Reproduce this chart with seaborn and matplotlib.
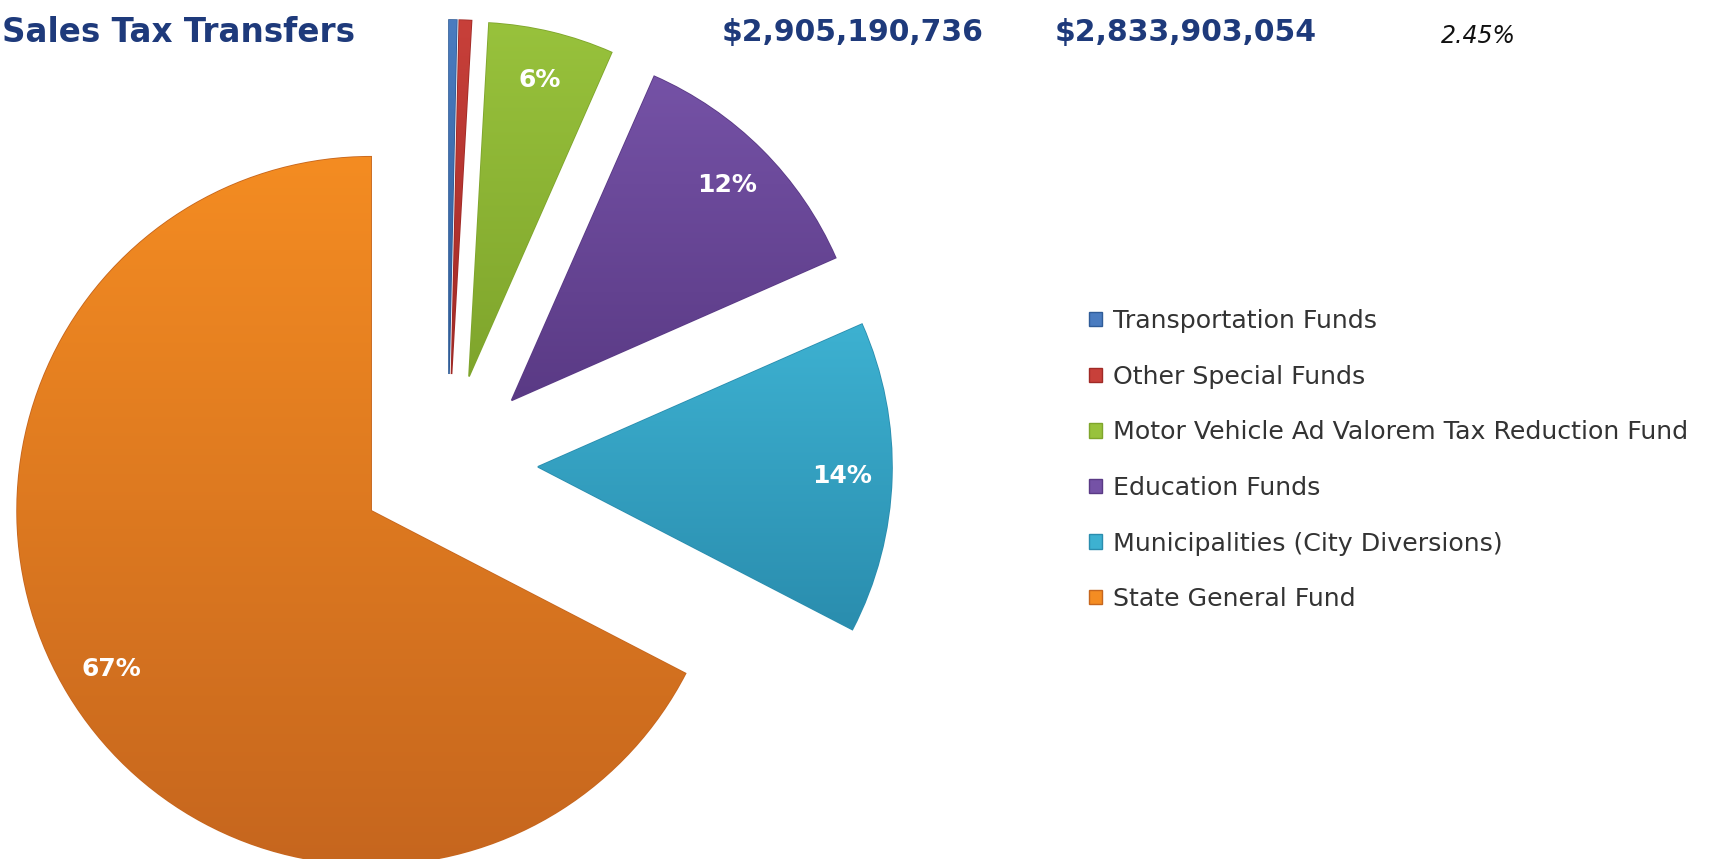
import numpy as np
import matplotlib
matplotlib.use("Agg")
import matplotlib.pyplot as plt
from matplotlib.colors import LinearSegmentedColormap
from matplotlib.patches import Patch
import seaborn as sns

# data
funds = [
    "Transportation Funds",
    "Other Special Funds",
    "Motor Vehicle Ad Valorem Tax Reduction Fund",
    "Education Funds",
    "Municipalities (City Diversions)",
    "State General Fund",
]
shares = [0.35, 0.55, 5.7, 11.8, 14.2, 67.4]
total_current = "$2,905,190,736"
total_prior = "$2,833,903,054"
pct_change = "2.45%"
title = "Sales Tax Transfers"

# colours: top / bottom of each wedge gradient
top_colors = ["#4A7CC0", "#C8403A", "#98C23C", "#7552A6", "#3DB1D1", "#F48C22"]
bottom_colors = ["#2F5C98", "#A02A26", "#7FA52C", "#5A3A85", "#2A8DAE", "#C6661E"]

sns.set_theme(style="white")
plt.rcParams["font.family"] = ["DejaVu Sans"]

W, H = 1722, 859
fig = plt.figure(figsize=(W / 100, H / 100), dpi=100)
ax = fig.add_axes([0, 0, 1, 1])

center = (448, H - 464)
radius = 354
expl = 90

wedges, _, autotexts = ax.pie(
    shares,
    colors=top_colors,
    startangle=90,
    counterclock=False,
    center=center,
    radius=radius,
    explode=[expl] * len(shares),
    autopct=lambda p: f"{p:.0f}%" if p >= 1 else "",
    pctdistance=0.86,
    wedgeprops=dict(linewidth=0),
)

# vertical gradient on each wedge, with a thin darker rim
grad = np.linspace(0, 1, 256).reshape(-1, 1)
for w, c0, c1 in zip(wedges, top_colors, bottom_colors):
    cmap = LinearSegmentedColormap.from_list("g", [c0, c1])
    bb = w.get_path().get_extents(w.get_transform() - ax.transData)
    im = ax.imshow(grad, cmap=cmap, extent=[bb.x0, bb.x1, bb.y0, bb.y1],
                   origin="upper", aspect="auto", zorder=w.get_zorder() + 0.1)
    im.set_clip_path(w)
    w.set_edgecolor(c1)
    w.set_linewidth(1.2)

for t in autotexts:
    t.set_color("white")
    t.set_fontsize(18)
    t.set_fontweight("bold")
    t.set_zorder(5)

ax.set_xlim(0, W)
ax.set_ylim(0, H)
ax.set_aspect("equal")
ax.axis("off")

navy = "#1E3A7B"
ax.text(2, H - 33, title, ha="left", va="center", fontsize=23.5,
        fontweight="bold", color=navy)
ax.text(853, H - 33, total_current, ha="center", va="center", fontsize=21.5,
        fontweight="bold", color=navy)
ax.text(1186, H - 33, total_prior, ha="center", va="center", fontsize=21.5,
        fontweight="bold", color=navy)
ax.text(1478, H - 36, pct_change, ha="center", va="center", fontsize=17,
        style="italic", color="#111111")

handles = [Patch(facecolor=c, edgecolor=c1) for c, c1 in zip(top_colors, bottom_colors)]
leg = ax.legend(handles, funds, loc="upper left",
                bbox_to_anchor=(1079, H - 299), bbox_transform=ax.transData,
                frameon=False, fontsize=18.2, handlelength=0.5, handleheight=0.5,
                handletextpad=0.45, labelspacing=1.25, borderaxespad=0)
for t in leg.get_texts():
    t.set_color("#333333")

fig.savefig("out.png", dpi=100)
